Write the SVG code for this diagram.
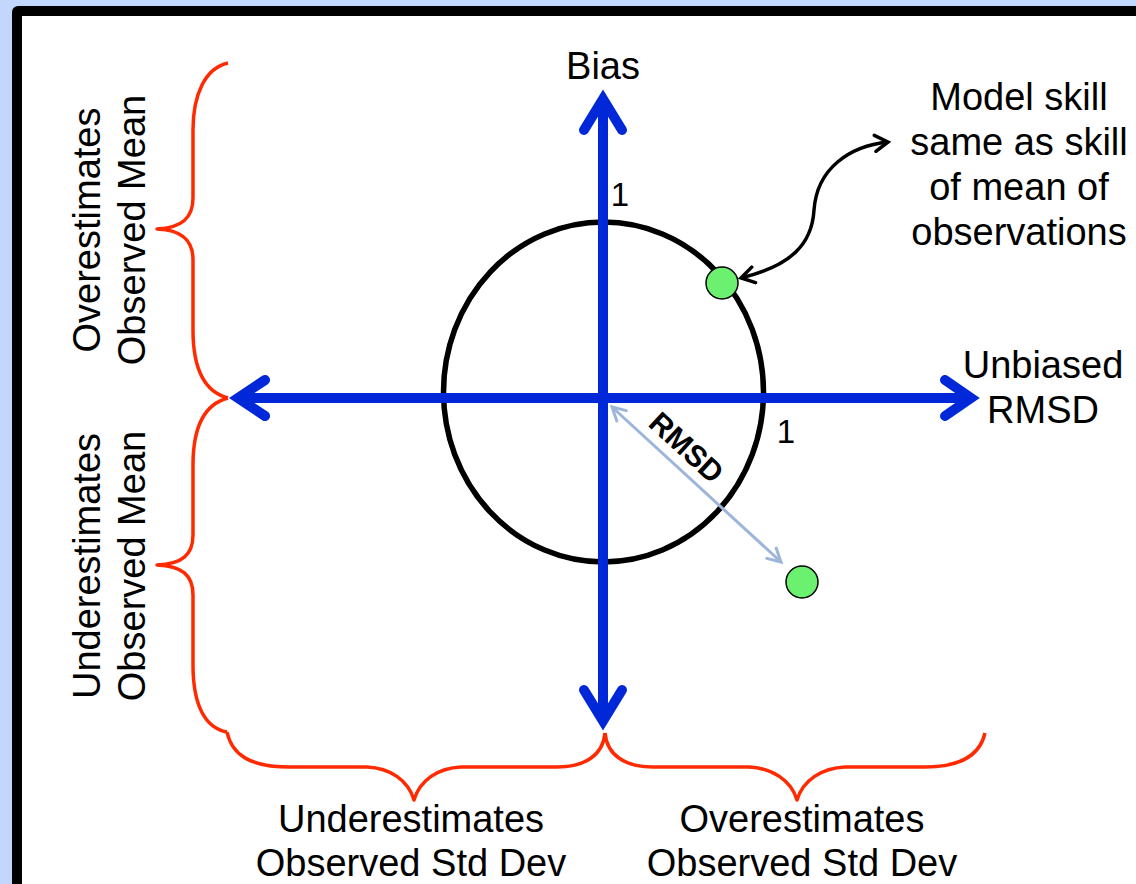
<svg xmlns="http://www.w3.org/2000/svg" width="1136" height="884" viewBox="0 0 1136 884">
  <style>
    .lbl { font-family: "Liberation Sans", Arial, sans-serif; font-size: 38px; fill: #000; text-anchor: middle; }
    .num { font-family: "Liberation Sans", Arial, sans-serif; font-size: 33px; fill: #000; text-anchor: middle; }
    .rmsd { font-family: "Liberation Sans", Arial, sans-serif; font-size: 30px; font-weight: bold; fill: #000; text-anchor: middle; }
    .axis { stroke: #0028d8; stroke-width: 10; fill: none; }
    .head { stroke: #0028d8; stroke-width: 10; fill: none; stroke-linecap: round; stroke-linejoin: miter; stroke-miterlimit: 10; }
    .brace { stroke: #ff2a00; stroke-width: 3.5; fill: none; stroke-linejoin: round; }
    .dot { fill: #6cf070; stroke: #000; stroke-width: 1.5; }
  </style>
  <defs>
    <marker id="chevBlack" viewBox="-16 -10 20 20" markerWidth="20" markerHeight="20" refX="0" refY="0" markerUnits="userSpaceOnUse" orient="auto-start-reverse">
      <path d="M-13,-8 L0,0 L-13,8" fill="none" stroke="#000" stroke-width="3.5" stroke-linecap="round" stroke-linejoin="miter"/>
    </marker>
    <marker id="chevGrey" viewBox="-16 -10 20 20" markerWidth="20" markerHeight="20" refX="0" refY="0" markerUnits="userSpaceOnUse" orient="auto-start-reverse">
      <path d="M-13,-7 L0,0 L-13,7" fill="none" stroke="#9db5d9" stroke-width="3" stroke-linecap="round" stroke-linejoin="miter"/>
    </marker>
  </defs>

  <g id="frame">
    <rect x="0" y="0" width="1136" height="884" fill="#c3d6fb"/>
    <rect x="12" y="6" width="1200" height="1000" rx="6" fill="#000"/>
    <rect x="22" y="16" width="1200" height="1000" fill="#fff"/>
  </g>

  <g id="circle">
    <ellipse cx="603.5" cy="392" rx="160" ry="170" fill="none" stroke="#000" stroke-width="5.5"/>
  </g>

  <g id="connectors">
    <g id="axes">
      <line class="axis" x1="603" y1="100" x2="603" y2="720"/>
      <line class="axis" x1="238" y1="398" x2="971" y2="398"/>
      <path class="head" d="M584,130 L603,99 L622,130"/>
      <path class="head" d="M584,690 L603,721 L622,690"/>
      <path class="head" d="M265,380 L238,398 L265,416"/>
      <path class="head" d="M945,380 L971,398 L945,416"/>
    </g>
    <g id="braces">
      <path class="brace" d="M228,63 C205,68 193,95 193,130 L193,198 C193,218 182,228 157,229 C182,230 193,240 193,260 L193,330 C193,370 205,392 228,398"/>
      <path class="brace" d="M228,398 C205,404 193,425 193,465 L193,535 C193,555 182,564 157,565 C182,566 193,575 193,595 L193,665 C193,705 205,728 227,732"/>
      <path class="brace" d="M227,732 C232,755 250,767 290,767 L367,767 C390,768 408,780 414,800 C420,780 438,768 461,767 L557,767 C585,767 603,755 605,733"/>
      <path class="brace" d="M605,733 C607,755 625,767 653,767 L749,767 C772,768 791,780 797,800 C803,780 822,768 845,767 L925,767 C960,767 980,755 985,733"/>
    </g>
    <line id="rmsd-arrow" x1="612" y1="407" x2="781" y2="562" stroke="#9db5d9" stroke-width="3" marker-start="url(#chevGrey)" marker-end="url(#chevGrey)"/>
    <path id="skill-arrow" d="M741,278 C790,266 812,245 814,210 C817,168 850,146 888,142" fill="none" stroke="#000" stroke-width="3.5" marker-start="url(#chevBlack)" marker-end="url(#chevBlack)"/>
  </g>

  <g id="dot-skill">
    <circle class="dot" cx="722" cy="283" r="16"/>
  </g>
  <g id="dot-model">
    <circle class="dot" cx="802" cy="582" r="16"/>
  </g>

  <g id="label-bias">
    <text class="lbl" x="603" y="79">Bias</text>
  </g>
  <g id="label-one-top">
    <text class="num" x="620" y="206">1</text>
  </g>
  <g id="label-one-right">
    <text class="num" x="786" y="443">1</text>
  </g>
  <g id="label-unbiased">
    <text class="lbl" x="1043" y="378">Unbiased</text>
    <text class="lbl" x="1043" y="423">RMSD</text>
  </g>
  <g id="label-skill">
    <text class="lbl" x="1019" y="110">Model skill</text>
    <text class="lbl" x="1019" y="155">same as skill</text>
    <text class="lbl" x="1019" y="200">of mean of</text>
    <text class="lbl" x="1019" y="245">observations</text>
  </g>
  <g id="label-rmsd">
    <text class="rmsd" transform="translate(687,447) rotate(42.6)" x="0" y="11">RMSD</text>
  </g>
  <g id="label-over-mean">
    <text class="lbl" transform="translate(100,230) rotate(-90)" x="0" y="0">Overestimates</text>
    <text class="lbl" transform="translate(145,230) rotate(-90)" x="0" y="0">Observed Mean</text>
  </g>
  <g id="label-under-mean">
    <text class="lbl" transform="translate(100,566) rotate(-90)" x="0" y="0">Underestimates</text>
    <text class="lbl" transform="translate(145,566) rotate(-90)" x="0" y="0">Observed Mean</text>
  </g>
  <g id="label-under-std">
    <text class="lbl" x="411" y="832">Underestimates</text>
    <text class="lbl" x="411" y="876">Observed Std Dev</text>
  </g>
  <g id="label-over-std">
    <text class="lbl" x="802" y="832">Overestimates</text>
    <text class="lbl" x="802" y="876">Observed Std Dev</text>
  </g>
</svg>
